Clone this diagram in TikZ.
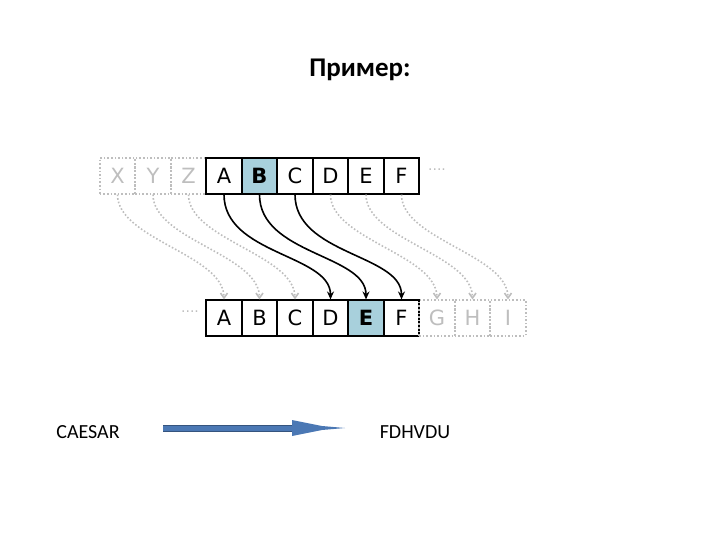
\documentclass[tikz,border=0pt]{standalone}
\usepackage{fontspec}
\setmainfont{DejaVu Sans}
\newfontfamily\carfont{Carlito}
\usetikzlibrary{arrows.meta}
\definecolor{hl}{RGB}{168,208,220}
\definecolor{gr}{RGB}{190,190,190}
\definecolor{ab}{RGB}{75,120,180}
\tikzset{
 cell/.style={draw=black,line width=1.6pt,minimum width=35.5pt,minimum height=35.5pt,inner sep=0pt,font=\fontsize{21}{21}\selectfont},
 gcell/.style={draw=gr,dotted,line width=1.6pt,minimum width=35.5pt,minimum height=35.5pt,inner sep=0pt,text=gr,font=\fontsize{21}{21}\selectfont},
 sh/.style={-{Stealth[length=8pt,width=7pt]},line width=1.6pt},
 gsh/.style={-{Straight Barb[length=5pt,width=7pt]},gr,dotted,line width=1.6pt},
 lbl/.style={font=\carfont\fontsize{20}{20}\selectfont}
}
\begin{document}
\begin{tikzpicture}[x=1pt,y=-1pt]
\useasboundingbox (0,0) rectangle (720,540);
\node[font=\carfont\bfseries\fontsize{27}{27}\selectfont] (title) at (360,70) {Пример:};
% top row
\foreach \l [count=\i from 0] in {X,Y,Z}
  \node[gcell] (t\i) at (117.5+35.5*\i,176) {\l};
\foreach \l [count=\i from 3] in {A,B,C,D,E,F}
  \node[cell] (t\i) at (117.5+35.5*\i,176) {\l};
\node[cell,fill=hl,font=\bfseries\fontsize{21}{21}\selectfont] at (t4) {B};
\node[text=gr,font=\fontsize{14}{14}\selectfont] (tdots) at (437,172) {····};
% bottom row
\foreach \l [count=\i from 3] in {A,B,C,D,E,F}
  \node[cell] (b\i) at (117.5+35.5*\i,318) {\l};
\node[cell,fill=hl,font=\bfseries\fontsize{21}{21}\selectfont] at (b7) {E};
\foreach \l [count=\i from 9] in {G,H,I}
  \node[gcell] (b\i) at (117.5+35.5*\i,318) {\l};
\node[text=gr,font=\fontsize{14}{14}\selectfont] (bdots) at (190,314) {····};
% arrows
\foreach \i in {0,1,2,6,7,8} {
  \pgfmathtruncatemacro\j{\i+3}
  \draw[gsh] (t\i.south) .. controls +(0,45) and +(0,-45) .. (b\j.north);
}
\foreach \i in {3,4,5} {
  \pgfmathtruncatemacro\j{\i+3}
  \draw[sh] (t\i.south) .. controls +(0,60) and +(0,-45) .. (b\j.north);
}
% caesar
\node[lbl] (c) at (88,432) {CAESAR};
\node[lbl] (f) at (415,432) {FDHVDU};
\fill[ab] (163,425) -- (292,425) -- (292,420) -- (322,426) -- (345,428) -- (322,430) -- (292,436) -- (292,431) -- (163,431) -- cycle;
\draw[ab!70!black,line width=0.6pt] (163,425) -- (292,425) (163,431)--(292,431);
\end{tikzpicture}
\end{document}
